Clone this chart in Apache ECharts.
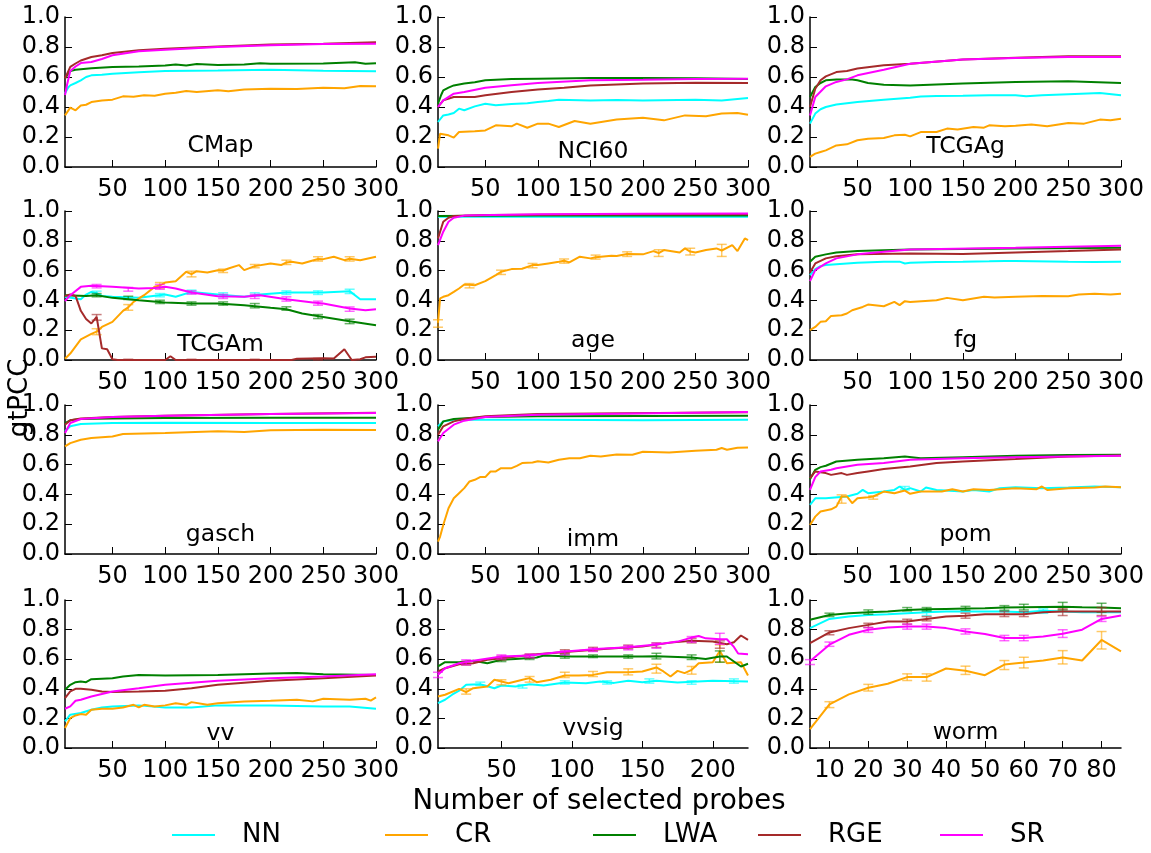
<!DOCTYPE html>
<html>
<head>
<meta charset="utf-8">
<script src="https://cdn.jsdelivr.net/npm/echarts@6.0.0/dist/echarts.min.js"></script>
<style>
  html, body { margin: 0; padding: 0; background: #fff; }
  #chart { width: 1151px; height: 853px; }
</style>
</head>
<body>
<div id="chart"></div>
<script>
// methods and their colours
const methods = ['NN', 'CR', 'LWA', 'RGE', 'SR'];
const colors = ['#00ffff', '#ffa500', '#008000', '#a52a2a', '#ff00ff'];
const errColors = ['rgba(0,255,255,0.6)', 'rgba(255,165,0,0.6)', 'rgba(0,128,0,0.6)', 'rgba(165,42,42,0.6)', 'rgba(255,0,255,0.6)'];

// tick labels
const ticks300 = [50, 100, 150, 200, 250, 300];
const ticksVvsig = [50, 100, 150, 200];
const ticksWorm = [10, 20, 30, 40, 50, 60, 70, 80];

// ---- CMap ----
const cmap_nn = [[5,0.49],[8,0.53],[10,0.544],[15,0.56],[20,0.578],[25,0.6],[30,0.611],[40,0.615],[50,0.622],[75,0.632],[100,0.64],[150,0.644],[200,0.649],[250,0.642],[300,0.638]];
const cmap_cr = [[5,0.344],[10,0.396],[15,0.378],[20,0.41],[25,0.415],[30,0.433],[40,0.444],[50,0.449],[60,0.471],[70,0.468],[80,0.478],[90,0.475],[100,0.489],[110,0.495],[120,0.507],[130,0.5],[150,0.511],[160,0.505],[175,0.516],[200,0.522],[225,0.52],[250,0.529],[270,0.525],[285,0.54],[300,0.538]];
const cmap_lwa = [[5,0.59],[10,0.64],[15,0.648],[20,0.652],[30,0.658],[50,0.667],[75,0.67],[100,0.676],[110,0.684],[120,0.676],[130,0.686],[150,0.68],[175,0.684],[190,0.692],[200,0.688],[250,0.69],[280,0.698],[290,0.688],[300,0.692]];
const cmap_rge = [[5,0.59],[10,0.667],[15,0.69],[20,0.71],[30,0.733],[40,0.745],[50,0.76],[75,0.778],[100,0.789],[150,0.804],[200,0.816],[250,0.822],[300,0.831]];
const cmap_sr = [[5,0.48],[7,0.55],[10,0.64],[15,0.67],[20,0.693],[30,0.7],[40,0.72],[50,0.745],[75,0.771],[100,0.782],[150,0.8],[200,0.811],[250,0.82],[300,0.822]];

// ---- NCI60 ----
const nci_nn = [[5,0.3],[10,0.344],[15,0.35],[20,0.36],[25,0.389],[30,0.378],[40,0.404],[50,0.422],[60,0.411],[75,0.42],[90,0.425],[100,0.433],[110,0.44],[120,0.449],[150,0.444],[175,0.446],[200,0.444],[250,0.449],[275,0.444],[300,0.46]];
const nci_cr = [[5,0.122],[7,0.222],[15,0.211],[20,0.196],[25,0.233],[40,0.238],[50,0.244],[60,0.278],[75,0.271],[80,0.289],[90,0.262],[100,0.289],[110,0.289],[120,0.267],[135,0.307],[150,0.289],[175,0.316],[200,0.329],[220,0.311],[240,0.344],[260,0.338],[275,0.356],[290,0.36],[300,0.349]];
const nci_lwa = [[5,0.422],[8,0.48],[10,0.511],[15,0.529],[20,0.544],[30,0.556],[40,0.565],[50,0.578],[75,0.587],[100,0.589],[150,0.593],[200,0.593],[250,0.591],[300,0.587]];
const nci_rge = [[5,0.4],[10,0.444],[20,0.467],[40,0.467],[50,0.478],[75,0.5],[100,0.516],[125,0.529],[150,0.544],[200,0.556],[250,0.562],[300,0.56]];
const nci_sr = [[5,0.4],[10,0.444],[20,0.489],[30,0.5],[50,0.529],[75,0.545],[100,0.56],[150,0.578],[200,0.582],[250,0.587],[300,0.589]];

// ---- TCGAg ----
const tcgag_nn = [[5,0.289],[10,0.356],[15,0.385],[20,0.4],[30,0.416],[40,0.425],[50,0.433],[75,0.449],[100,0.462],[110,0.47],[125,0.473],[150,0.475],[175,0.478],[200,0.478],[210,0.472],[225,0.478],[250,0.485],[280,0.493],[300,0.478]];
const tcgag_cr = [[5,0.067],[10,0.089],[15,0.1],[20,0.111],[30,0.144],[40,0.151],[50,0.178],[60,0.189],[75,0.193],[85,0.211],[95,0.215],[100,0.204],[110,0.233],[125,0.233],[135,0.256],[145,0.25],[160,0.267],[170,0.262],[175,0.278],[190,0.271],[200,0.275],[215,0.284],[230,0.271],[250,0.293],[265,0.289],[280,0.316],[290,0.311],[300,0.322]];
const tcgag_lwa = [[5,0.467],[10,0.533],[15,0.56],[20,0.578],[30,0.584],[45,0.584],[50,0.578],[60,0.56],[75,0.549],[100,0.544],[150,0.556],[200,0.567],[250,0.571],[300,0.56]];
const tcgag_rge = [[5,0.4],[10,0.522],[15,0.578],[20,0.604],[30,0.633],[40,0.64],[50,0.656],[75,0.678],[100,0.689],[150,0.716],[200,0.729],[250,0.738],[300,0.738]];
const tcgag_sr = [[5,0.344],[10,0.467],[20,0.538],[30,0.567],[40,0.584],[50,0.611],[75,0.649],[100,0.689],[150,0.716],[200,0.727],[250,0.733],[300,0.733]];

// ---- TCGAm ----
const tcgam_nn = [[5,0.424],[15,0.413],[20,0.408],[25,0.439],[30,0.457],[35,0.448],[40,0.43],[50,0.424],[75,0.417],[100,0.439],[110,0.424],[125,0.457],[150,0.439],[175,0.424],[190,0.439],[215,0.453],[250,0.453],[275,0.462],[285,0.408],[300,0.408]];
const tcgam_cr = [[5,0.009],[10,0.043],[20,0.139],[30,0.175],[35,0.19],[40,0.222],[50,0.256],[60,0.33],[65,0.353],[70,0.39],[80,0.435],[90,0.491],[95,0.5],[100,0.52],[110,0.529],[120,0.592],[125,0.576],[130,0.596],[140,0.587],[150,0.603],[155,0.6],[160,0.614],[170,0.637],[175,0.603],[185,0.63],[200,0.648],[210,0.637],[215,0.655],[220,0.659],[230,0.648],[245,0.678],[250,0.677],[260,0.693],[270,0.67],[275,0.68],[285,0.67],[300,0.693]];
const tcgam_lwa = [[5,0.435],[25,0.43],[35,0.435],[50,0.417],[75,0.401],[100,0.386],[125,0.379],[150,0.379],[175,0.368],[200,0.35],[215,0.341],[230,0.312],[250,0.289],[275,0.26],[300,0.233]];
const tcgam_rge = [[5,0.43],[10,0.44],[15,0.43],[20,0.33],[25,0.275],[30,0.245],[35,0.29],[40,0.078],[45,0.072],[50,0.005],[55,0],[100,0],[105,0.025],[110,0],[220,0],[225,0.008],[250,0.012],[260,0.01],[270,0.072],[277,0],[285,0.005],[290,0.018],[300,0.022]];
const tcgam_sr = [[5,0.395],[10,0.435],[20,0.491],[30,0.498],[50,0.491],[75,0.48],[90,0.484],[100,0.491],[110,0.48],[125,0.453],[150,0.428],[175,0.424],[190,0.435],[215,0.408],[240,0.386],[250,0.379],[275,0.345],[290,0.334],[300,0.341]];
const tcgam_nn_err = [[35,0.435,0.462],[95,0.424,0.446],[125,0.446,0.469],[155,0.424,0.451],[185,0.428,0.451],[215,0.44,0.464],[245,0.44,0.464],[275,0.446,0.475]];
const tcgam_cr_err = [[35,0.17,0.21],[65,0.334,0.372],[95,0.48,0.52],[125,0.558,0.596],[155,0.587,0.61],[185,0.619,0.641],[215,0.641,0.67],[245,0.664,0.693],[275,0.664,0.693]];
const tcgam_lwa_err = [[35,0.424,0.446],[65,0.406,0.428],[95,0.379,0.401],[125,0.368,0.39],[155,0.368,0.39],[185,0.35,0.379],[215,0.334,0.357],[245,0.278,0.305],[275,0.244,0.274]];
const tcgam_rge_err = [[35,0.267,0.305],[65,0,0.005],[125,0,0.005],[185,0,0.005],[245,0,0.01]];
const tcgam_sr_err = [[35,0.484,0.507],[65,0.462,0.487],[95,0.475,0.507],[125,0.442,0.464],[155,0.413,0.44],[185,0.413,0.44],[215,0.395,0.424],[245,0.368,0.395],[275,0.327,0.356]];

// ---- age ----
const age_nn = [[5,0.962],[50,0.962],[100,0.962],[200,0.961],[300,0.962]];
const age_cr = [[5,0.25],[7,0.413],[10,0.424],[15,0.435],[20,0.457],[25,0.48],[30,0.507],[35,0.505],[40,0.502],[50,0.529],[60,0.57],[65,0.592],[75,0.61],[85,0.612],[95,0.637],[100,0.637],[110,0.648],[120,0.659],[125,0.666],[130,0.655],[140,0.693],[150,0.682],[155,0.69],[160,0.693],[170,0.7],[175,0.698],[185,0.712],[200,0.709],[210,0.731],[215,0.718],[220,0.738],[235,0.722],[240,0.749],[245,0.728],[250,0.722],[260,0.738],[270,0.749],[275,0.735],[285,0.771],[290,0.731],[297,0.816],[300,0.805]];
const age_lwa = [[5,0.966],[50,0.968],[100,0.969],[200,0.97],[300,0.969]];
const age_rge = [[5,0.816],[10,0.928],[15,0.955],[20,0.966],[50,0.973],[150,0.976],[300,0.978]];
const age_sr = [[5,0.771],[10,0.861],[15,0.928],[20,0.955],[30,0.969],[100,0.978],[200,0.982],[300,0.984]];
const age_cr_err = [[5,0.22,0.27],[35,0.484,0.513],[65,0.574,0.603],[95,0.619,0.648],[125,0.65,0.678],[155,0.677,0.704],[185,0.695,0.726],[215,0.695,0.74],[245,0.705,0.75],[275,0.695,0.776]];

// ---- fg ----
const fg_nn = [[5,0.57],[10,0.61],[15,0.63],[20,0.637],[30,0.643],[50,0.652],[75,0.659],[90,0.66],[95,0.648],[100,0.652],[125,0.658],[150,0.659],[175,0.662],[190,0.664],[200,0.664],[250,0.659],[275,0.657],[300,0.659]];
const fg_cr = [[5,0.2],[10,0.222],[15,0.256],[20,0.26],[25,0.296],[35,0.3],[40,0.312],[45,0.334],[55,0.356],[60,0.372],[75,0.361],[85,0.39],[90,0.368],[95,0.395],[100,0.39],[125,0.401],[135,0.417],[150,0.401],[160,0.413],[170,0.424],[180,0.419],[200,0.424],[225,0.43],[250,0.428],[260,0.439],[275,0.444],[290,0.439],[300,0.444]];
const fg_lwa = [[5,0.659],[10,0.693],[20,0.709],[30,0.722],[50,0.731],[100,0.742],[200,0.749],[300,0.753]];
const fg_rge = [[5,0.587],[10,0.648],[20,0.682],[30,0.697],[50,0.709],[100,0.715],[150,0.711],[200,0.722],[250,0.731],[300,0.742]];
const fg_sr = [[5,0.529],[10,0.603],[20,0.648],[30,0.682],[50,0.709],[75,0.726],[100,0.742],[200,0.753],[300,0.767]];

// ---- gasch ----
const gasch_nn = [[5,0.823],[10,0.857],[20,0.872],[50,0.879],[100,0.881],[200,0.879],[300,0.879]];
const gasch_cr = [[5,0.722],[10,0.744],[20,0.767],[30,0.778],[50,0.789],[60,0.805],[100,0.812],[150,0.823],[175,0.818],[200,0.83],[250,0.834],[300,0.832]];
const gasch_lwa = [[5,0.879],[10,0.897],[20,0.906],[50,0.91],[100,0.913],[200,0.915],[300,0.915]];
const gasch_rge = [[5,0.868],[10,0.897],[20,0.91],[50,0.919],[100,0.928],[200,0.939],[300,0.948]];
const gasch_sr = [[5,0.812],[10,0.879],[20,0.906],[50,0.919],[100,0.928],[200,0.939],[300,0.946]];

// ---- imm ----
const imm_nn = [[5,0.857],[10,0.89],[20,0.901],[50,0.901],[100,0.901],[200,0.897],[300,0.901]];
const imm_cr = [[5,0.083],[7,0.117],[10,0.195],[15,0.307],[20,0.374],[25,0.408],[30,0.442],[35,0.487],[40,0.498],[45,0.516],[50,0.516],[55,0.554],[60,0.554],[65,0.576],[75,0.576],[80,0.592],[85,0.61],[95,0.614],[100,0.623],[110,0.614],[120,0.632],[130,0.643],[140,0.643],[150,0.659],[160,0.655],[175,0.668],[190,0.666],[200,0.686],[225,0.682],[250,0.693],[270,0.7],[275,0.711],[280,0.7],[290,0.713],[300,0.715]];
const imm_lwa = [[5,0.834],[10,0.89],[20,0.906],[50,0.919],[100,0.924],[300,0.928]];
const imm_rge = [[5,0.8],[10,0.857],[20,0.89],[30,0.906],[50,0.924],[100,0.939],[300,0.951]];
const imm_sr = [[5,0.756],[10,0.812],[20,0.868],[30,0.895],[50,0.919],[100,0.935],[300,0.953]];

// ---- pom ----
const pom_nn = [[5,0.33],[10,0.374],[20,0.374],[40,0.386],[50,0.404],[55,0.43],[60,0.408],[75,0.419],[85,0.43],[90,0.453],[95,0.43],[100,0.442],[110,0.419],[115,0.446],[125,0.43],[150,0.419],[160,0.43],[175,0.419],[185,0.442],[200,0.448],[225,0.442],[250,0.446],[275,0.453],[300,0.448]];
const pom_cr = [[5,0.195],[10,0.251],[15,0.285],[25,0.3],[30,0.318],[35,0.386],[40,0.386],[45,0.341],[50,0.374],[60,0.381],[65,0.386],[75,0.419],[85,0.408],[95,0.426],[100,0.404],[110,0.419],[130,0.419],[140,0.435],[150,0.419],[160,0.435],[175,0.43],[200,0.442],[220,0.435],[225,0.453],[230,0.43],[250,0.442],[275,0.446],[285,0.453],[300,0.448]];
const pom_lwa = [[5,0.502],[10,0.565],[15,0.583],[20,0.592],[30,0.621],[50,0.632],[75,0.643],[95,0.655],[110,0.643],[150,0.65],[200,0.659],[250,0.664],[300,0.666]];
const pom_rge = [[5,0.509],[10,0.554],[20,0.543],[25,0.531],[35,0.543],[40,0.531],[50,0.543],[60,0.554],[75,0.57],[100,0.587],[125,0.61],[150,0.621],[200,0.637],[250,0.655],[300,0.661]];
const pom_sr = [[5,0.43],[10,0.516],[15,0.554],[25,0.565],[30,0.576],[50,0.599],[75,0.61],[100,0.632],[150,0.643],[200,0.65],[250,0.655],[300,0.659]];
const pom_nn_err = [[95,0.43,0.453]];
const pom_cr_err = [[35,0.341,0.397],[65,0.368,0.39]];

// ---- vv ----
const vv_nn = [[5,0.18],[10,0.225],[20,0.236],[30,0.258],[40,0.274],[50,0.281],[75,0.288],[100,0.274],[125,0.274],[150,0.288],[200,0.288],[250,0.281],[275,0.281],[300,0.265]];
const vv_cr = [[5,0.135],[10,0.202],[15,0.22],[20,0.229],[25,0.225],[30,0.258],[40,0.265],[50,0.265],[60,0.274],[70,0.292],[75,0.274],[80,0.292],[90,0.281],[100,0.288],[110,0.303],[120,0.292],[125,0.31],[140,0.292],[150,0.303],[175,0.315],[200,0.319],[225,0.326],[240,0.315],[250,0.333],[275,0.326],[290,0.333],[295,0.32],[300,0.342]];
const vv_lwa = [[5,0.393],[10,0.427],[15,0.445],[20,0.449],[25,0.445],[30,0.465],[50,0.472],[60,0.483],[75,0.494],[100,0.49],[150,0.494],[200,0.503],[225,0.506],[250,0.499],[300,0.494]];
const vv_rge = [[5,0.337],[10,0.382],[15,0.4],[20,0.4],[30,0.393],[40,0.382],[50,0.378],[75,0.382],[100,0.387],[125,0.404],[150,0.427],[200,0.454],[250,0.472],[300,0.49]];
const vv_sr = [[5,0.265],[10,0.281],[15,0.319],[20,0.326],[30,0.348],[50,0.382],[75,0.404],[100,0.427],[150,0.454],[200,0.472],[250,0.483],[300,0.499]];

// ---- vvsig ----
const vvsig_nn = [[5,0.303],[10,0.326],[15,0.36],[20,0.387],[25,0.427],[35,0.431],[45,0.404],[50,0.422],[60,0.416],[70,0.431],[80,0.422],[95,0.443],[110,0.438],[120,0.449],[130,0.44],[140,0.454],[150,0.445],[160,0.454],[175,0.443],[200,0.454],[225,0.449]];
const vvsig_cr = [[5,0.348],[10,0.36],[20,0.4],[25,0.378],[30,0.404],[40,0.416],[45,0.461],[55,0.438],[65,0.461],[70,0.472],[75,0.445],[85,0.461],[95,0.49],[105,0.49],[115,0.494],[125,0.512],[140,0.512],[150,0.517],[160,0.544],[165,0.517],[170,0.483],[175,0.521],[180,0.506],[185,0.528],[190,0.573],[200,0.58],[205,0.656],[210,0.573],[220,0.58],[225,0.49]];
const vvsig_lwa = [[5,0.551],[10,0.58],[20,0.58],[30,0.589],[40,0.573],[50,0.596],[60,0.602],[75,0.611],[80,0.625],[100,0.618],[125,0.618],[140,0.618],[150,0.618],[160,0.62],[185,0.611],[195,0.602],[205,0.618],[210,0.618],[220,0.551],[225,0.569]];
const vvsig_rge = [[5,0.517],[10,0.539],[20,0.566],[30,0.573],[40,0.596],[50,0.607],[75,0.634],[100,0.652],[125,0.67],[150,0.685],[170,0.712],[185,0.724],[200,0.719],[210,0.701],[215,0.715],[220,0.76],[225,0.73]];
const vvsig_sr = [[5,0.494],[10,0.539],[20,0.573],[30,0.589],[50,0.618],[70,0.625],[90,0.647],[100,0.656],[120,0.67],[140,0.681],[160,0.7],[175,0.719],[185,0.746],[190,0.757],[195,0.741],[205,0.735],[210,0.735],[215,0.683],[218,0.638],[225,0.634]];
const vvsig_nn_err = [[35,0.422,0.445],[65,0.405,0.427],[95,0.432,0.454],[125,0.432,0.454],[155,0.438,0.467],[185,0.431,0.454],[215,0.438,0.467]];
const vvsig_cr_err = [[25,0.364,0.4],[50,0.427,0.461],[70,0.445,0.483],[95,0.476,0.512],[115,0.483,0.517],[140,0.494,0.535],[160,0.506,0.566],[185,0.499,0.551],[205,0.58,0.697]];
const vvsig_lwa_err = [[50,0.584,0.607],[70,0.598,0.625],[95,0.607,0.634],[115,0.611,0.629],[140,0.607,0.629],[160,0.602,0.64],[185,0.598,0.629],[205,0.58,0.656]];
const vvsig_rge_err = [[25,0.56,0.585],[50,0.595,0.62],[70,0.61,0.635],[95,0.64,0.664],[115,0.655,0.68],[140,0.67,0.695],[160,0.68,0.71],[185,0.71,0.74],[205,0.674,0.724]];
const vvsig_sr_err = [[5,0.476,0.512],[25,0.562,0.596],[50,0.602,0.629],[70,0.611,0.634],[95,0.629,0.656],[115,0.652,0.674],[140,0.663,0.692],[160,0.674,0.708],[185,0.715,0.753],[205,0.701,0.775]];

// ---- worm ----
const worm_nn = [[5,0.81],[10,0.872],[15,0.888],[20,0.899],[25,0.904],[30,0.911],[35,0.917],[40,0.922],[45,0.922],[50,0.922],[55,0.922],[60,0.917],[65,0.928],[70,0.922],[75,0.917],[80,0.917],[85,0.917]];
const worm_cr = [[5,0.128],[10,0.295],[15,0.362],[20,0.407],[25,0.434],[30,0.479],[35,0.479],[40,0.537],[45,0.522],[50,0.492],[55,0.564],[60,0.577],[65,0.591],[70,0.612],[75,0.591],[80,0.73],[85,0.653]];
const worm_lwa = [[5,0.866],[10,0.899],[15,0.91],[20,0.917],[25,0.922],[30,0.933],[35,0.937],[40,0.94],[45,0.942],[50,0.944],[55,0.949],[60,0.951],[65,0.953],[70,0.955],[75,0.951],[80,0.949],[85,0.944]];
const worm_rge = [[5,0.709],[10,0.781],[15,0.81],[20,0.832],[25,0.855],[30,0.855],[35,0.872],[40,0.888],[45,0.893],[50,0.904],[55,0.904],[60,0.904],[65,0.917],[70,0.922],[75,0.922],[80,0.922],[85,0.922]];
const worm_sr = [[5,0.586],[10,0.698],[15,0.765],[20,0.799],[25,0.814],[30,0.821],[35,0.821],[40,0.81],[45,0.787],[50,0.77],[55,0.743],[60,0.743],[65,0.754],[70,0.772],[75,0.799],[80,0.872],[85,0.895]];
const worm_nn_err = [[35,0.895,0.93],[65,0.91,0.94]];
const worm_cr_err = [[10,0.273,0.313],[20,0.385,0.43],[30,0.456,0.501],[35,0.452,0.501],[45,0.497,0.553],[55,0.53,0.591],[60,0.541,0.613],[70,0.568,0.658],[80,0.669,0.787]];
const worm_lwa_err = [[10,0.888,0.911],[20,0.904,0.933],[30,0.926,0.949],[35,0.926,0.949],[45,0.931,0.957],[55,0.931,0.962],[60,0.933,0.971],[70,0.933,0.984],[80,0.917,0.978]];
const worm_rge_err = [[10,0.765,0.792],[20,0.814,0.843],[30,0.837,0.87],[35,0.859,0.888],[45,0.877,0.911],[55,0.888,0.922],[60,0.888,0.922],[70,0.895,0.94],[80,0.895,0.949]];
const worm_sr_err = [[5,0.564,0.597],[10,0.687,0.716],[20,0.781,0.814],[30,0.803,0.837],[35,0.803,0.837],[45,0.77,0.805],[55,0.725,0.761],[60,0.725,0.761],[70,0.747,0.799],[80,0.855,0.888]];

const panels = [
  { title: 'CMap',  xMax: 300, xTicks: ticks300, lines: [cmap_nn, cmap_cr, cmap_lwa, cmap_rge, cmap_sr], errs: [] },
  { title: 'NCI60', xMax: 300, xTicks: ticks300, lines: [nci_nn, nci_cr, nci_lwa, nci_rge, nci_sr], errs: [] },
  { title: 'TCGAg', xMax: 300, xTicks: ticks300, lines: [tcgag_nn, tcgag_cr, tcgag_lwa, tcgag_rge, tcgag_sr], errs: [] },
  { title: 'TCGAm', xMax: 300, xTicks: ticks300, lines: [tcgam_nn, tcgam_cr, tcgam_lwa, tcgam_rge, tcgam_sr],
    errs: [tcgam_nn_err, tcgam_cr_err, tcgam_lwa_err, tcgam_rge_err, tcgam_sr_err] },
  { title: 'age',   xMax: 300, xTicks: ticks300, lines: [age_nn, age_cr, age_lwa, age_rge, age_sr], errs: [[], age_cr_err] },
  { title: 'fg',    xMax: 300, xTicks: ticks300, lines: [fg_nn, fg_cr, fg_lwa, fg_rge, fg_sr], errs: [] },
  { title: 'gasch', xMax: 300, xTicks: ticks300, lines: [gasch_nn, gasch_cr, gasch_lwa, gasch_rge, gasch_sr], errs: [] },
  { title: 'imm',   xMax: 300, xTicks: ticks300, lines: [imm_nn, imm_cr, imm_lwa, imm_rge, imm_sr], errs: [] },
  { title: 'pom',   xMax: 300, xTicks: ticks300, lines: [pom_nn, pom_cr, pom_lwa, pom_rge, pom_sr], errs: [pom_nn_err, pom_cr_err] },
  { title: 'vv',    xMax: 300, xTicks: ticks300, lines: [vv_nn, vv_cr, vv_lwa, vv_rge, vv_sr], errs: [] },
  { title: 'vvsig', xMax: 225, xTicks: ticksVvsig, lines: [vvsig_nn, vvsig_cr, vvsig_lwa, vvsig_rge, vvsig_sr],
    errs: [vvsig_nn_err, vvsig_cr_err, vvsig_lwa_err, vvsig_rge_err, vvsig_sr_err] },
  { title: 'worm',  xMax: 85, xTicks: ticksWorm, lines: [worm_nn, worm_cr, worm_lwa, worm_rge, worm_sr],
    errs: [worm_nn_err, worm_cr_err, worm_lwa_err, worm_rge_err, worm_sr_err] }
];

// layout (pixels)
const colLeft = [65, 438, 810];
const colWidth = [311, 310, 311];
const rowTop = [17, 211, 405, 600];
const rowHeight = [150, 149, 149, 148];
const titleMid = [146, 152, 147, 345, 341, 341, 535, 540, 535, 734, 729, 733];
const legendLeft = [172, 385, 593, 758, 940];
const FONT = '"DejaVu Sans", sans-serif';

function renderErr(params, api) {
  const x = api.value(0);
  const p1 = api.coord([x, api.value(1)]);
  const p2 = api.coord([x, api.value(2)]);
  const c = 5;
  const style = { stroke: api.visual('color'), lineWidth: 1.5 };
  return {
    type: 'group',
    children: [
      { type: 'line', shape: { x1: p1[0], y1: p1[1], x2: p2[0], y2: p2[1] }, style: style },
      { type: 'line', shape: { x1: p1[0] - c, y1: p1[1], x2: p1[0] + c, y2: p1[1] }, style: style },
      { type: 'line', shape: { x1: p2[0] - c, y1: p2[1], x2: p2[0] + c, y2: p2[1] }, style: style }
    ]
  };
}

const option = {
  animation: false,
  backgroundColor: '#fff',
  grid: [], xAxis: [], yAxis: [], series: [], legend: [], graphic: []
};

panels.forEach(function (p, i) {
  const r = Math.floor(i / 3), c = i % 3;
  option.grid.push({ left: colLeft[c], top: rowTop[r], width: colWidth[c], height: rowHeight[r] });
  option.xAxis.push({
    gridIndex: i, type: 'value', min: 5, max: p.xMax,
    axisLine: { lineStyle: { color: '#000', width: 1.5 } },
    axisTick: { inside: true, length: 7, customValues: p.xTicks, lineStyle: { color: '#000', width: 1 } },
    axisLabel: { customValues: p.xTicks, margin: 11, color: '#000', fontSize: 24, fontFamily: FONT },
    splitLine: { show: false }
  });
  option.yAxis.push({
    gridIndex: i, type: 'value', min: 0, max: 1, interval: 0.2,
    axisLine: { show: true, lineStyle: { color: '#000', width: 1.5 } },
    axisTick: { show: true, inside: true, length: 7, lineStyle: { color: '#000', width: 1 } },
    axisLabel: { margin: 5, color: '#000', fontSize: 24, fontFamily: FONT,
      formatter: function (v) { return v.toFixed(1); } },
    splitLine: { show: false }
  });
  p.lines.forEach(function (d, k) {
    option.series.push({
      type: 'line', name: methods[k], xAxisIndex: i, yAxisIndex: i, data: d,
      symbol: 'none', showSymbol: false, z: 3 + k,
      lineStyle: { color: colors[k], width: 2 }, itemStyle: { color: colors[k] }
    });
  });
  p.errs.forEach(function (d, k) {
    if (!d || !d.length) return;
    option.series.push({
      type: 'custom', name: methods[k] + ' err', xAxisIndex: i, yAxisIndex: i, data: d,
      renderItem: renderErr, encode: { x: 0, y: [1, 2] }, z: 3 + k,
      itemStyle: { color: errColors[k] }
    });
  });
  option.graphic.push({
    type: 'text', x: colLeft[c] + colWidth[c] / 2, y: titleMid[i], silent: true,
    style: { text: p.title, fill: '#000', font: '23.5px ' + FONT, textAlign: 'center', textVerticalAlign: 'middle' }
  });
});

// shared axis titles
option.graphic.push({
  type: 'text', x: 20, y: 398, rotation: Math.PI / 2, silent: true,
  style: { text: 'gtPCC', fill: '#000', font: '26px ' + FONT, textAlign: 'center', textVerticalAlign: 'middle' }
});
option.graphic.push({
  type: 'text', x: 599, y: 802, silent: true,
  style: { text: 'Number of selected probes', fill: '#000', font: '27.5px ' + FONT, textAlign: 'center', textVerticalAlign: 'middle' }
});

methods.forEach(function (m, k) {
  option.legend.push({
    data: [m], left: legendLeft[k], top: 820, padding: 0,
    icon: 'rect', itemWidth: 43, itemHeight: 2,
    textStyle: { color: '#000', fontSize: 26, fontFamily: FONT, lineHeight: 30, padding: [0, 0, 0, 22] }
  });
});

const chart = echarts.init(document.getElementById('chart'));
chart.setOption(option);
window.addEventListener('resize', function () { chart.resize(); });
</script>
</body>
</html>
